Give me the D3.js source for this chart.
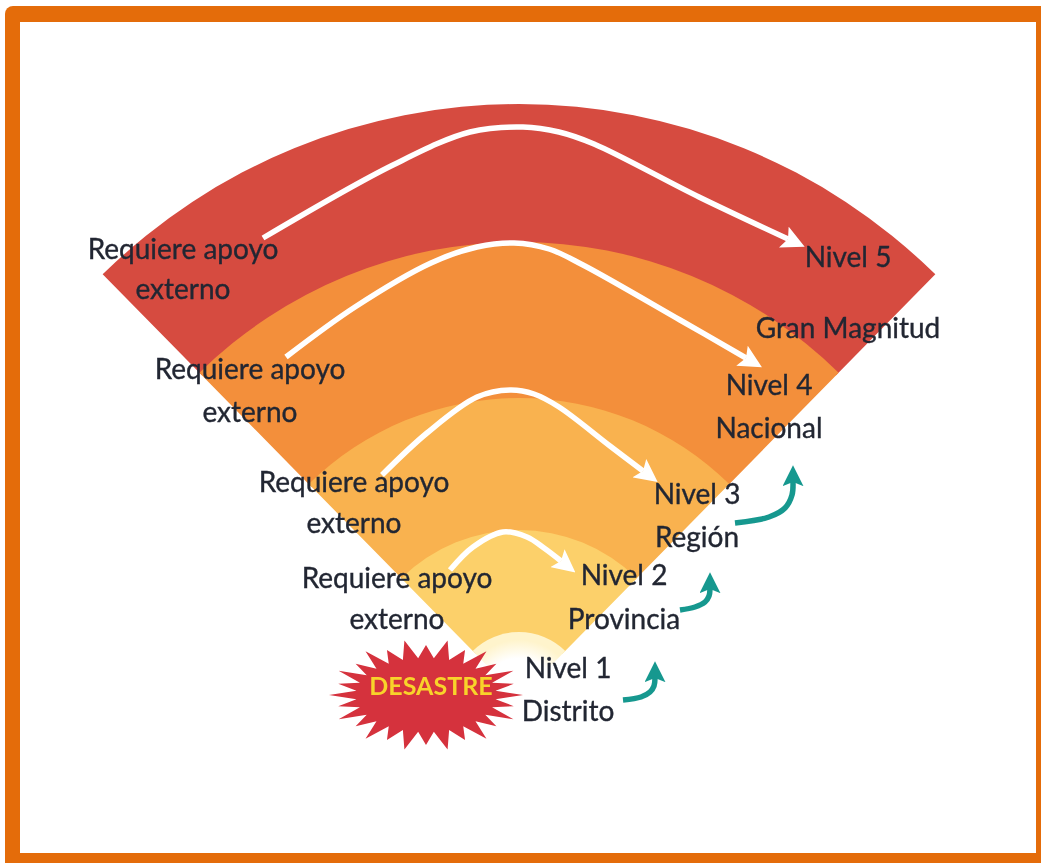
<!DOCTYPE html>
<html>
<head>
<meta charset="utf-8">
<script src="https://cdn.jsdelivr.net/npm/d3@7"></script>
<style>
  html, body { margin: 0; padding: 0; background: #fff; overflow: hidden; }
  text { font-family: Lato, "Open Sans", sans-serif; fill: #222733; stroke: #222733; stroke-width: 0.35; }
</style>
</head>
<body>
<div id="chart"></div>
<script>
/* levels, from the inside out */
var levels = ["Nivel 1", "Nivel 2", "Nivel 3", "Nivel 4", "Nivel 5"];
var subLevels = ["Distrito", "Provincia", "Región", "Nacional", "Gran Magnitud"];
var reach = [66, 168, 300, 456, 594];
var levelColors = ["url(#level1)", "#fcd06a", "#f9b24f", "#f38f3a", "#d64b41"];

/* white arrows, outer one first: [offset from the axis, height over the apex] */
var arrow5 = [[-256, 460], [-126, 533], [-49, 566], [4, 571], [40, 566], [75, 554], [180, 501], [269, 459]];
var arrow4 = [[-233, 341], [-164, 391], [-88, 435], [-42, 451], [-5, 455], [30, 449], [64, 433], [161, 378], [227, 340]];
var arrow3 = [[-137, 223], [-92, 265], [-42, 301], [-9, 308], [15, 304], [40, 291], [91, 252], [124, 227]];
var arrow2 = [[-69, 128], [-46, 151], [-16, 166], [8, 161], [25, 150], [42, 137]];

/* teal arrows */
var teal1 = [[104, -2], [122, 1], [131, 6], [135, 12], [136, 20]];
var teal2 = [[161, 88], [176, 91], [186, 96], [190, 102], [191, 109]];
var teal3 = [[216, 175], [250, 181], [266, 190], [273, 203], [274, 216]];

var apoyoLines = ["Requiere apoyo", "externo"];
var centerWord = "DESASTRE";

var width = 1041, height = 863;
var apex = { x: 519, y: 698 };
var halfAngle = 44.5 * Math.PI / 180;

var x = d3.scaleLinear().domain([-600, 600]).range([apex.x - 600, apex.x + 600]);
var y = d3.scaleLinear().domain([0, 600]).range([apex.y, apex.y - 600]);
var radius = d3.scaleLinear().domain([0, 600]).range([0, 600]);

var svg = d3.select("#chart").append("svg")
    .attr("width", width)
    .attr("height", height);

var defs = svg.append("defs");
defs.append("filter").attr("id", "soft")
    .append("feGaussianBlur").attr("stdDeviation", 0.7);

/* the first level fades to white towards the apex */
var level1 = defs.append("radialGradient")
    .attr("id", "level1")
    .attr("gradientUnits", "userSpaceOnUse")
    .attr("cx", 0).attr("cy", 0).attr("r", radius(reach[0]));
level1.append("stop").attr("offset", "0.6").attr("stop-color", "#ffffff");
level1.append("stop").attr("offset", "0.88").attr("stop-color", "#fff4cc");

function addHead(id, color, size, orient) {
    defs.append("marker")
        .attr("id", id)
        .attr("markerUnits", "userSpaceOnUse")
        .attr("viewBox", "0 -10 20 20")
        .attr("refX", 4)
        .attr("refY", 0)
        .attr("markerWidth", size)
        .attr("markerHeight", size)
        .attr("orient", orient)
        .append("path")
        .attr("d", "M0,-10L20,0L0,10L4,0Z")
        .attr("fill", color);
}
addHead("head-white", "#fff", 23, "auto");
/* the teal arrows all end pointing straight up */
addHead("head-teal", "#17988f", 21, -90);

/* frame */
svg.append("rect")
    .attr("x", 5).attr("y", 6)
    .attr("width", 1060).attr("height", 880)
    .attr("rx", 8)
    .attr("fill", "#e46c0a");
svg.append("rect")
    .attr("x", 20).attr("y", 22)
    .attr("width", 1016).attr("height", 831)
    .attr("fill", "#fff");

var chart = svg.append("g").attr("filter", "url(#soft)");

/* fan of levels, biggest at the back; each band just overlaps the next one in */
var arc = d3.arc()
    .startAngle(-halfAngle)
    .endAngle(halfAngle);

chart.append("g")
    .attr("transform", "translate(" + apex.x + "," + apex.y + ")")
    .selectAll("path")
    .data(d3.range(levels.length).reverse())
    .enter().append("path")
    .attr("d", function(i) {
        return arc({
            innerRadius: i ? radius(reach[i - 1]) - 4 : 0,
            outerRadius: radius(reach[i])
        });
    })
    .attr("fill", function(i) { return levelColors[i]; });

/* arrows */
var line = d3.line()
    .x(function(d) { return x(d[0]); })
    .y(function(d) { return y(d[1]); })
    .curve(d3.curveCatmullRom.alpha(0.5));

chart.selectAll("path.white-arrow")
    .data([arrow5, arrow4, arrow3, arrow2])
    .enter().append("path")
    .attr("class", "white-arrow")
    .attr("d", line)
    .attr("fill", "none")
    .attr("stroke", "#fff")
    .attr("stroke-width", 5.5)
    .attr("marker-end", "url(#head-white)");

chart.selectAll("path.teal-arrow")
    .data([teal1, teal2, teal3])
    .enter().append("path")
    .attr("class", "teal-arrow")
    .attr("d", line)
    .attr("fill", "none")
    .attr("stroke", "#17988f")
    .attr("stroke-width", 5.5)
    .attr("marker-end", "url(#head-teal)");

/* burst */
var burstPoints = 28;
var burst = d3.range(burstPoints * 2).map(function(i) {
    var a = i * Math.PI / burstPoints;
    var rx = i % 2 ? 70 : (i % 4 ? 97 : 90);
    var ry = i % 2 ? 37 : (i % 4 ? 56 : 50);
    return [426 + rx * Math.sin(a), 695 - ry * Math.cos(a)];
});
chart.append("path")
    .attr("d", d3.line()(burst) + "Z")
    .attr("fill", "#d5303c");

/* labels */
var fontSize = 28;
var labelLayout = [
    { text: levels[4], cx: 848, base: 267 },
    { text: subLevels[4], cx: 848, base: 338 },
    { text: levels[3], cx: 769, base: 395 },
    { text: subLevels[3], cx: 769, base: 438 },
    { text: levels[2], cx: 697, base: 504 },
    { text: subLevels[2], cx: 697, base: 547 },
    { text: levels[1], cx: 624, base: 585 },
    { text: subLevels[1], cx: 624, base: 629 },
    { text: levels[0], cx: 568, base: 678 },
    { text: subLevels[0], cx: 568, base: 721 },
    { text: apoyoLines[0], cx: 183, base: 259 },
    { text: apoyoLines[1], cx: 183, base: 299 },
    { text: apoyoLines[0], cx: 250, base: 379 },
    { text: apoyoLines[1], cx: 250, base: 422 },
    { text: apoyoLines[0], cx: 354, base: 492 },
    { text: apoyoLines[1], cx: 354, base: 533 },
    { text: apoyoLines[0], cx: 397, base: 588 },
    { text: apoyoLines[1], cx: 397, base: 629 }
];

chart.selectAll("text.label")
    .data(labelLayout)
    .enter().append("text")
    .attr("class", "label")
    .attr("x", function(d) { return d.cx; })
    .attr("y", function(d) { return d.base; })
    .attr("text-anchor", "middle")
    .attr("font-size", fontSize)
    .text(function(d) { return d.text; });

chart.append("text")
    .attr("x", 431)
    .attr("y", 695)
    .attr("text-anchor", "middle")
    .attr("font-size", 25)
    .attr("font-weight", "bold")
    .style("fill", "#f8d32c")
    .style("stroke", "none")
    .text(centerWord);
</script>
</body>
</html>
